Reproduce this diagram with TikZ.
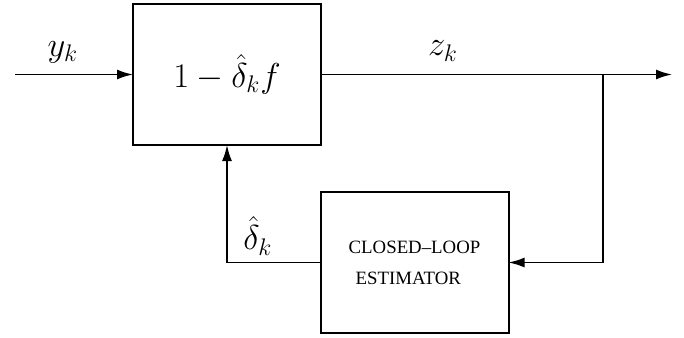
\documentclass[tikz,border=0pt]{standalone}
\usepackage{fontspec}
\newfontfamily\tms{Liberation Serif}
\usetikzlibrary{arrows.meta}
\begin{document}
\begin{tikzpicture}[x=0.5pt,y=-0.5pt,
  blk/.style={draw, line width=1pt, minimum width=94pt, minimum height=70.5pt, inner sep=0pt, outer sep=0pt},
  wire/.style={line width=0.9pt},
  arr/.style={wire, -{Latex[length=8pt,width=5pt]}},
  lbl/.style={inner sep=0pt, font=\fontsize{17}{20}\selectfont},
  captext/.style={align=left, font=\tms\fontsize{9.4}{15.5}\selectfont}]
\useasboundingbox (0,0) rectangle (684,337);
\node[blk, font=\fontsize{17}{20}\selectfont] (top) at (227,74.5) {$1-\hat{\delta}_k f$};
\node[blk, captext] (est) at (414.5,262.5) {CLOSED–LOOP\\\hspace{3.5pt}ESTIMATOR};
\coordinate (in) at (15,74.5);
\coordinate (out) at (672,74.5);
\coordinate (br) at (603,74.5);
\draw[arr] (in) -- (top.west);
\draw[arr] (top.east) -- (out);
\draw[arr] (br) |- (est.east);
\draw[arr] (est.west) -| (top.south);
\node[lbl] (ly) at (63,52) {$y_k$};
\node[lbl] (lz) at (443,51) {$z_k$};
\node[lbl] (ld) at (258,236) {$\hat{\delta}_k$};
\end{tikzpicture}
\end{document}
